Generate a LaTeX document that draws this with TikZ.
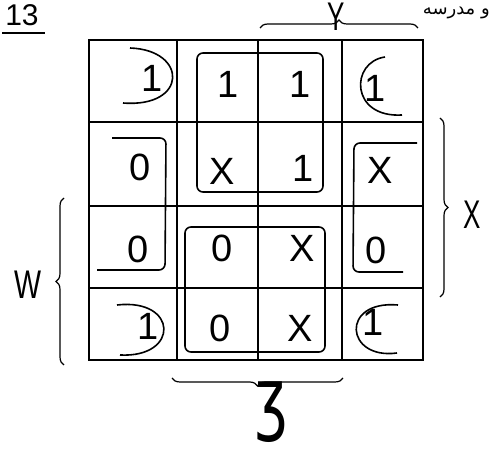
\documentclass[tikz,border=0pt]{standalone}
\usepackage{fontspec}
\setmainfont{Liberation Sans}
\newfontfamily\arabicfont[Script=Arabic]{DejaVu Sans}
\newfontfamily\dvs{DejaVu Sans}
\TeXXeTstate=1
\usetikzlibrary{decorations.pathreplacing}
\begin{document}
\begin{tikzpicture}[x=1pt,y=-1pt,
  gridline/.style={line width=1.8pt,black},
  loopline/.style={line width=1.6pt,black,rounded corners=6pt},
  entry/.style={inner sep=0pt,font=\fontsize{38}{38}\selectfont},
  lbl/.style={inner sep=0pt,font=\fontsize{40}{40}\selectfont,xscale=0.65,transform shape},
  bracestyle/.style={line width=1.2pt,decorate,decoration={brace,amplitude=8pt}}]
\useasboundingbox (0,0) rectangle (491,465);
% grid
\draw[gridline] (89,40) rectangle (423,360);
\foreach \x in {177,258,342} \draw[gridline] (\x,40) -- (\x,360);
\foreach \y in {122,206,288} \draw[gridline] (89,\y) -- (423,\y);
% entries
\node[entry] (c11) at (152,78) {1};
\node[entry] (c12) at (228,84) {1};
\node[entry] (c13) at (300,84) {1};
\node[entry] (c14) at (375,88) {1};
\node[entry] (c21) at (140,167) {0};
\node[entry] (c22) at (222,171) {X};
\node[entry] (c23) at (303,168) {1};
\node[entry] (c24) at (380,170) {X};
\node[entry] (c31) at (138,249) {0};
\node[entry] (c32) at (222,248) {0};
\node[entry] (c33) at (302,248) {X};
\node[entry] (c34) at (376,250) {0};
\node[entry] (c41) at (148,326) {1};
\node[entry] (c42) at (220,328) {0};
\node[entry] (c43) at (300,328) {X};
\node[entry] (c44) at (373,322) {1};
% groups
\draw[loopline] (197,53) rectangle (323,192);
\draw[loopline] (185,227) rectangle (325,352);
\draw[line width=1.6pt] (130,48) .. controls (188,50) and (188,108) .. (123,103);
\draw[line width=1.6pt] (117,305) .. controls (178,298) and (180,358) .. (120,355);
\draw[line width=1.6pt] (385,57) .. controls (350,62) and (350,118) .. (402,115);
\draw[line width=1.6pt] (398,305) .. controls (340,300) and (345,360) .. (397,353);
\draw[loopline] (112,138) -- (166,138) -- (165,270) -- (97,270);
\draw[loopline] (417,143) -- (354,143) -- (353,272) -- (403,272);
% title and text
\node[inner sep=0pt,font=\fontsize{30}{30}\selectfont] (num) at (22,15) {13};
\draw[line width=1.2pt] (2,33) -- (45,33);
\node[inner sep=0pt,anchor=east,font=\arabicfont\fontsize{18}{18}\selectfont] (ar) at (490,13) {\beginR و مدرسه\endR};
% braces and labels
\coordinate (yb1) at (260,28);
\coordinate (yb2) at (418,28);
\draw[bracestyle] (yb1) -- (yb2);
\node[lbl] (ylab) at (336,17) {Y};
\coordinate (xb1) at (440,118);
\coordinate (xb2) at (440,297);
\draw[bracestyle] (xb1) -- (xb2);
\node[lbl] (xlab) at (472,215) {X};
\coordinate (wb1) at (64,365);
\coordinate (wb2) at (64,198);
\draw[bracestyle] (wb1) -- (wb2);
\node[lbl,xscale=1.1] (wlab) at (28,285) {W};
\coordinate (zb1) at (343,378);
\coordinate (zb2) at (172,378);
\draw[bracestyle] (zb1) -- (zb2);
\node[inner sep=0pt,font=\dvs\fontsize{80}{80}\selectfont,xscale=0.7,transform shape] (zlab) at (272,412) {ʒ};
\end{tikzpicture}
\end{document}
